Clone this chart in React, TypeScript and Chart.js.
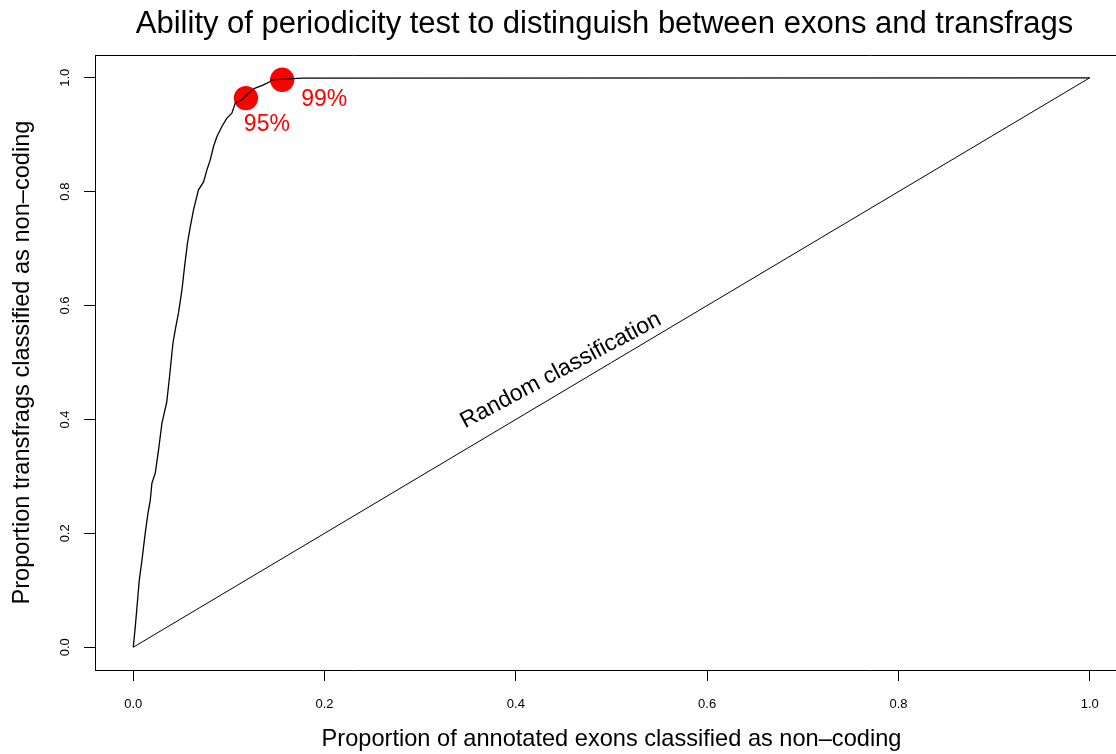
import React, { useEffect, useRef } from "react";
import { Chart, registerables } from "chart.js";

Chart.register(...registerables);

// ROC curve (false-positive rate vs true-positive rate)
const rocFPR = [0, 0.0021, 0.0045, 0.0063, 0.0091, 0.0125, 0.0154, 0.0178, 0.0195, 0.023, 0.0264, 0.03, 0.035, 0.0379, 0.0415, 0.0439, 0.0473, 0.0509, 0.0536, 0.0567, 0.0596, 0.063, 0.0682, 0.0735, 0.077, 0.0805, 0.0839, 0.0875, 0.0927, 0.0979, 0.1031, 0.1066, 0.1136, 0.1223, 0.1275, 0.1362, 0.1432, 0.1449, 0.1763, 1];
const rocTPR = [0, 0.0357, 0.0826, 0.1178, 0.1529, 0.2004, 0.2355, 0.2583, 0.2882, 0.3058, 0.3462, 0.3937, 0.4306, 0.4745, 0.5343, 0.5571, 0.587, 0.6274, 0.6678, 0.71, 0.7381, 0.768, 0.8032, 0.8172, 0.8383, 0.8559, 0.8793, 0.8968, 0.9144, 0.9292, 0.938, 0.9555, 0.9613, 0.9759, 0.9819, 0.9877, 0.9935, 0.9965, 0.9995, 1];

// Random classification diagonal
const randomFPR = [0, 1];
const randomTPR = [0, 1];

// Cut-off points
const cutoffLabels = ["95%", "99%"];
const cutoffFPR = [0.1178, 0.1557];
const cutoffTPR = [0.9643, 0.9965];

// Tick values
const xTickValues = [0, 0.2, 0.4, 0.6, 0.8, 1.0];
const yTickValues = [0, 0.2, 0.4, 0.6, 0.8, 1.0];

// Text
const titleText = "Ability of periodicity test to distinguish between exons and transfrags";
const xTitleText = "Proportion of annotated exons classified as non\u2013coding";
const yTitleText = "Proportion transfrags classified as non\u2013coding";
const randomText = "Random classification";

// Annotation anchor positions (data coordinates)
const cutoffLabelX = [0.1397, 0.1996];
const cutoffLabelY = [0.918, 0.961];
const randomTextX = 0.447;
const randomTextY = 0.486;
const randomTextAngle = 28;

const FONT = "'Liberation Sans', Arial, Helvetica, sans-serif";

const annotationPlugin = {
  id: "annotations",
  afterLayout(chart: any) {
    // the reference title sits slightly left of the plot-area centre
    const t = chart.titleBlock;
    if (t) {
      t.left -= 14;
    }
  },
  afterDatasetsDraw(chart: any) {
    const { ctx, scales } = chart;
    const x = scales.x;
    const y = scales.y;
    ctx.save();
    ctx.fillStyle = "#ff0000";
    ctx.font = `23px ${FONT}`;
    ctx.textAlign = "center";
    ctx.textBaseline = "middle";
    cutoffLabels.forEach((lab, i) => {
      ctx.fillText(lab, x.getPixelForValue(cutoffLabelX[i]), y.getPixelForValue(cutoffLabelY[i]));
    });
    ctx.fillStyle = "#000";
    ctx.translate(x.getPixelForValue(randomTextX), y.getPixelForValue(randomTextY));
    ctx.rotate((-randomTextAngle * Math.PI) / 180);
    ctx.fillText(randomText, 0, 0);
    ctx.restore();
  },
};

export default function App() {
  const ref = useRef<HTMLCanvasElement | null>(null);

  useEffect(() => {
    if (!ref.current) return;
    const chart = new Chart(ref.current, {
      type: "scatter",
      data: {
        datasets: [
          {
            label: "ROC",
            data: rocFPR.map((v, i) => ({ x: v, y: rocTPR[i] })),
            showLine: true,
            pointRadius: 0,
            borderColor: "#000",
            borderWidth: 1.3,
            tension: 0,
            xAxisID: "x",
            yAxisID: "y",
            order: 0,
          },
          {
            label: "Random",
            data: randomFPR.map((v, i) => ({ x: v, y: randomTPR[i] })),
            showLine: true,
            pointRadius: 0,
            borderColor: "#000",
            borderWidth: 1,
            xAxisID: "x",
            yAxisID: "y",
            order: 1,
          },
          {
            label: "Cut-offs",
            data: cutoffFPR.map((v, i) => ({ x: v, y: cutoffTPR[i] })),
            showLine: false,
            pointRadius: 12.2,
            pointBackgroundColor: "#ff0000",
            pointBorderWidth: 0,
            borderColor: "#ff0000",
            xAxisID: "x",
            yAxisID: "y",
            order: 2,
          },
        ],
      },
      options: {
        responsive: false,
        animation: false,
        devicePixelRatio: 1,
        layout: { padding: 0, autoPadding: false },
        plugins: {
          legend: { display: false },
          tooltip: { enabled: false },
          title: {
            display: true,
            fullSize: false,
            text: titleText,
            color: "#000",
            font: { family: FONT, size: 31, weight: "normal", lineHeight: 1.2 },
            padding: { top: 6, bottom: 11.8 },
          },
        },
        scales: {
          x: {
            type: "linear",
            position: "bottom",
            min: -0.04,
            max: 1.04,
            afterBuildTicks: (s: any) => {
              s.ticks = xTickValues.map((v) => ({ value: v }));
            },
            afterFit: (s: any) => {
              s.height = 84;
            },
            grid: { display: true, drawOnChartArea: false, drawTicks: true, tickLength: 11, color: "#000", lineWidth: 1 },
            border: { display: true, color: "#000", width: 1 },
            ticks: {
              color: "#000",
              padding: 16,
              font: { family: "'Liberation Sans Narrow', 'Liberation Sans', Arial, sans-serif", size: 13 },
              callback: (v: any) => Number(v).toFixed(1),
              maxRotation: 0,
              minRotation: 0,
            },
            title: {
              display: true,
              text: xTitleText,
              color: "#000",
              font: { family: FONT, size: 23.6, lineHeight: 1.2 },
              padding: { top: 0, bottom: 0 },
            },
          },
          xTop: {
            type: "linear",
            position: "top",
            min: -0.04,
            max: 1.04,
            afterFit: (s: any) => {
              s.height = 0;
            },
            grid: { display: false, drawTicks: false },
            border: { display: true, color: "#000", width: 1 },
            ticks: { display: false },
          },
          y: {
            type: "linear",
            position: "left",
            min: -0.04,
            max: 1.04,
            afterBuildTicks: (s: any) => {
              s.ticks = yTickValues.map((v) => ({ value: v }));
            },
            afterFit: (s: any) => {
              s.width = 95;
            },
            grid: { display: true, drawOnChartArea: false, drawTicks: true, tickLength: 11, color: "#000", lineWidth: 1 },
            border: { display: true, color: "#000", width: 1 },
            ticks: {
              color: "#000",
              padding: 10,
              crossAlign: "center",
              minRotation: 90,
              maxRotation: 90,
              font: { family: FONT, size: 13 },
              callback: (v: any) => Number(v).toFixed(1),
            },
            title: {
              display: true,
              text: yTitleText,
              color: "#000",
              font: { family: FONT, size: 23.6, lineHeight: 1.2 },
              padding: { top: 8.5, bottom: 0 },
            },
          },
        },
      },
      plugins: [annotationPlugin],
    } as any);
    return () => chart.destroy();
  }, []);

  return (
    <div
      style={{
        position: "fixed",
        left: 0,
        top: 0,
        width: 1116,
        height: 754,
        overflow: "hidden",
        background: "#fff",
      }}
    >
      <canvas ref={ref} width={1128} height={754} style={{ display: "block" }} />
    </div>
  );
}
